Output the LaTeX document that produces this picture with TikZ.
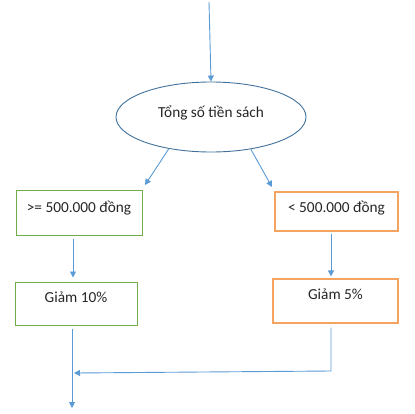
\documentclass[tikz,border=0pt]{standalone}
\usepackage{fontspec}
\setmainfont{Carlito}
\usetikzlibrary{arrows.meta,shapes.geometric}
\definecolor{lineblue}{RGB}{91,155,213}
\definecolor{boxgreen}{RGB}{112,173,71}
\definecolor{boxorange}{RGB}{244,164,96}
\definecolor{ellblue}{RGB}{65,113,156}
\begin{document}
\begin{tikzpicture}[x=1pt,y=-1pt,
  every node/.style={font=\fontsize{15.3}{18}\selectfont, text=black!85},
  arr/.style={draw=lineblue, line width=0.9pt, -{Triangle[width=6pt,length=6pt]}},
  ln/.style={draw=lineblue, line width=0.9pt},
  gbox/.style={draw=boxgreen, line width=1pt, inner sep=0pt, text depth=12pt},
  obox/.style={draw=boxorange, line width=1.2pt, inner sep=0pt, text depth=12pt}]
\useasboundingbox (0,0) rectangle (415,413);
\node[ellipse, draw=ellblue, line width=0.9pt, minimum width=190pt, minimum height=70pt, inner sep=0pt, text depth=10pt] (e) at (211,117) {Tổng số tiền sách};
\node[gbox, minimum width=126pt, minimum height=45pt] (g1) at (79,212.5) {>= 500.000 đồng};
\node[obox, minimum width=123pt, minimum height=39pt, text depth=9pt] (o1) at (336.5,211.5) {< 500.000 đồng};
\node[gbox, minimum width=122pt, minimum height=43pt] (g2) at (76,303.5) {Giảm 10\%};
\node[obox, minimum width=125pt, minimum height=44pt, text depth=14pt] (o2) at (335.5,301) {Giảm 5\%};
\coordinate (start) at (209,2);
\coordinate (l1) at (145,185);
\coordinate (r1) at (272,187);
\coordinate (out) at (72,408);
\coordinate (bend) at (331,371);
\coordinate (join) at (74,373);
\draw[arr] (start) -- (e.north);
\draw[arr] (e.217) -- (l1);
\draw[arr] (e.321) -- (r1);
\draw[arr, shorten <=3pt, shorten >=4pt] (g1.south -| 73,0) -- (g2.north -| 73,0);
\draw[arr, shorten <=2pt, shorten >=2pt] (o1.south -| 331,0) -- (o2.north -| 331,0);
\draw[arr, shorten <=3pt] (g2.south -| 72,0) -- (out);
\draw[arr, shorten <=4pt] (o2.south -| 331,0) -- (bend) -- (join);
\end{tikzpicture}
\end{document}
